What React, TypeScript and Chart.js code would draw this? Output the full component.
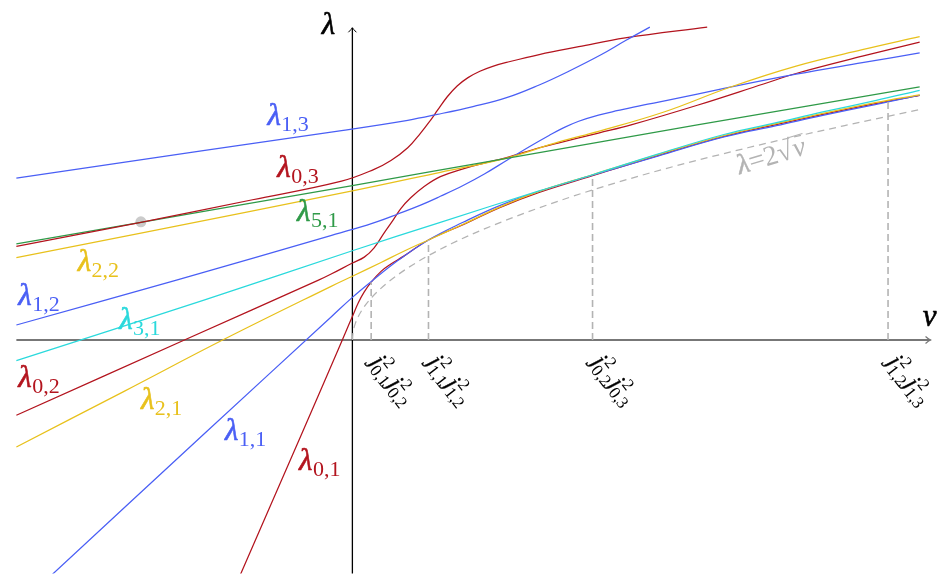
import React, { useEffect, useRef } from 'react';
import { Chart, registerables } from 'chart.js';

Chart.register(...registerables);

// ---------- data (x = nu, y = lambda) ----------
const X_MIN = -35.1;
const X_MAX = 58.8;
const Y_MIN = -23.8;
const Y_MAX = 34.1;

const lam13X = [-34, -15.1, -1.1, 5.6, 8.6, 12.2, 15.6, 18.9, 21.9, 25.2, 27.6, 30.1];
const lam13Y = [16.5, 19.3, 21.35, 22.4, 23.0, 23.8, 24.7, 26.0, 27.4, 29.1, 30.5, 31.9];

const lam03X = [-34, -21.4, -10.1, -1.1, 2.2, 3.9, 5.6, 6.9, 7.9, 8.6, 9.6, 10.6, 11.7, 12.9, 14.2, 15.6, 18.9, 22.9, 27.6, 35.9];
const lam03Y = [9.55, 12.0, 14.3, 16.2, 17.4, 18.3, 19.6, 21.1, 22.4, 23.4, 24.8, 25.9, 26.75, 27.4, 27.9, 28.3, 29.1, 29.9, 30.8, 31.9];

const lam51X = [-34, -21.4, 0, 15.6, 34.9, 57.4];
const lam51Y = [9.8, 12.0, 15.75, 18.52, 21.92, 25.8];

const lam22X = [-34, -21.4, 0, 8.9, 15.6, 20.9, 24.9, 31.6, 38.2, 44.9, 51.6, 57.4];
const lam22Y = [8.4, 10.9, 15.2, 17.1, 18.55, 20.2, 21.27, 23.27, 25.77, 27.93, 29.6, 30.93];

const lam12X = [-34, -17.8, -2.1, 0, 2.6, 4.6, 6.9, 8.9, 11.2, 13.4, 15.6, 17.9, 19.9, 21.4, 22.9, 24.9, 26.9, 29.4, 31.6, 38.2, 44.9, 51.6, 57.4];
const lam12Y = [1.53, 6.1, 10.67, 11.27, 12.1, 12.85, 13.75, 14.65, 15.75, 16.95, 18.3, 19.7, 20.85, 21.65, 22.3, 22.93, 23.4, 23.95, 24.37, 25.77, 27.1, 28.27, 29.27];

const lam31X = [-34, -15.1, 0, 8.9, 18.9, 24.3, 30.9, 37.6, 42.9, 47.6, 52.9, 57.4];
const lam31Y = [-2.1, 4.05, 9.1, 12.0, 15.2, 16.85, 18.95, 20.95, 22.15, 23.25, 24.4, 25.45];

const lam02X = [-34, -16.77, -3.43, -2.1, 0, 1.2, 2.2, 3.2, 4.1, 4.9, 5.9, 7.2, 8.9, 11.2, 13.4, 15.6, 18.9, 20.9, 24.9, 28.2, 34.9, 41.6, 44.9, 51.6, 57.4];
const lam02Y = [-7.67, 0.1, 6.1, 6.75, 7.85, 8.45, 9.4, 10.9, 12.2, 13.4, 14.5, 15.6, 16.65, 17.45, 18.05, 18.6, 19.6, 20.1, 21.1, 21.93, 23.93, 26.1, 27.17, 28.93, 30.37];

const lam21X = [-34, -23.1, -12.93, -2.1, 0, 2.9, 5.2, 7.7, 11.2, 14.9, 18.9, 24.3, 30.9, 37.6, 42.9, 47.6, 52.9, 57.4];
const lam21Y = [-10.9, -5.23, 0.1, 5.5, 6.5, 7.9, 9.05, 10.2, 11.8, 13.55, 15.15, 16.85, 18.9, 20.85, 22.05, 23.1, 24.2, 25.0];

const lam11X = [-30.8, -15.1, -2.1, 0, 1.9, 4.6, 7.7, 11.2, 14.9, 18.9, 24.3, 30.9, 37.6, 42.9, 47.6, 52.9, 57.4];
const lam11Y = [-24.3, -9.66, 2.4, 4.35, 5.95, 8.1, 10.2, 12.0, 13.7, 15.15, 16.8, 18.75, 20.7, 21.85, 22.9, 24.0, 24.95];

const lam01X = [-11.5, -5.1, -1.4, -0.6, 0, 0.6, 1.2, 1.9, 2.9, 3.9, 5.2, 7.7, 11.2, 14.9, 18.9, 24.3, 30.9, 37.6, 42.9, 47.6, 52.9, 57.4];
const lam01Y = [-24.3, -9.5, -0.9, 1.0, 2.4, 3.8, 4.9, 5.9, 7.0, 7.75, 8.55, 10.2, 11.75, 13.5, 15.05, 16.75, 18.8, 20.75, 21.95, 23.0, 24.1, 24.95];

const boundX = [0, 0.05, 0.15, 0.3, 0.6, 1.2, 2.0, 3.5, 6.0, 10, 15, 22, 30, 40, 50, 57.4];
const boundY = [0, 0.69, 1.2, 1.7, 2.4, 3.4, 4.39, 5.8, 7.6, 9.81, 12.0, 14.55, 17.0, 19.6, 21.9, 23.5];

const tickX = [1.9, 7.7, 24.3, 54.2];
const tickTop = [5.9, 10.2, 16.8, 24.4];
const tickIdx = [['0,1', '0,2'], ['1,1', '1,2'], ['0,2', '0,3'], ['1,2', '1,3']];

const markX = [-21.4];
const markY = [12.05];

const AXIS_X_START = -34;
const AXIS_X_END = 58.5;
const AXIS_Y_END = 31.83;

// ---------- styles ----------
const BLUE = '#4a5ff5';
const RED = '#b3141e';
const GREEN = '#2f9a48';
const YELLOW = '#e8c11c';
const CYAN = '#2ad9dc';
const GRAY = '#b3b3b3';
const FONT = '"Liberation Serif", "DejaVu Serif", serif';

const curveLabels = [
  { n: '1,3', c: BLUE, x: -8.6, y: 21.9 },
  { n: '0,3', c: RED, x: -7.6, y: 16.6 },
  { n: '5,1', c: GREEN, x: -5.6, y: 12.1 },
  { n: '2,2', c: YELLOW, x: -27.8, y: 7.03 },
  { n: '1,2', c: BLUE, x: -33.8, y: 3.6 },
  { n: '3,1', c: CYAN, x: -23.6, y: 1.1 },
  { n: '0,2', c: RED, x: -33.8, y: -4.83 },
  { n: '2,1', c: YELLOW, x: -21.4, y: -7.0 },
  { n: '1,1', c: BLUE, x: -12.9, y: -10.17 },
  { n: '0,1', c: RED, x: -5.4, y: -13.3 },
];

const pts = (xs: number[], ys: number[]) => xs.map((x, i) => ({ x, y: ys[i] }));

type Part = { t: string; size: number; italic?: boolean; dy?: number; dx?: number; stack?: boolean; bold?: number };

function drawParts(ctx: CanvasRenderingContext2D, parts: Part[], color: string) {
  let x = 0;
  ctx.fillStyle = color;
  ctx.strokeStyle = color;
  ctx.textAlign = 'left';
  ctx.textBaseline = 'alphabetic';
  for (const p of parts) {
    ctx.font = `${p.italic ? 'italic ' : ''}${p.size}px ${FONT}`;
    const dx = p.dx || 0;
    ctx.fillText(p.t, x + dx, p.dy || 0);
    if (p.bold) {
      ctx.lineWidth = p.bold;
      ctx.strokeText(p.t, x + dx, p.dy || 0);
    }
    if (!p.stack) x += ctx.measureText(p.t).width + dx;
  }
  return x;
}

const overlay = {
  id: 'overlay',
  beforeDatasetsDraw(chart: any) {
    const { ctx, scales } = chart;
    const sx = scales.x, sy = scales.y;
    ctx.save();
    const y0 = sy.getPixelForValue(0);
    const xa = sx.getPixelForValue(AXIS_X_START);
    const xb = sx.getPixelForValue(AXIS_X_END);
    ctx.strokeStyle = '#777777';
    ctx.lineWidth = 2;
    ctx.beginPath();
    ctx.moveTo(xa, y0);
    ctx.lineTo(xb, y0);
    ctx.stroke();
    ctx.lineWidth = 1.2;
    ctx.beginPath();
    ctx.moveTo(xb - 5, y0 - 3.5);
    ctx.quadraticCurveTo(xb - 2, y0 - 0.8, xb, y0);
    ctx.quadraticCurveTo(xb - 2, y0 + 0.8, xb - 5, y0 + 3.5);
    ctx.stroke();
    const x0 = sx.getPixelForValue(0);
    const yt = sy.getPixelForValue(AXIS_Y_END);
    const yb = sy.getPixelForValue(Y_MIN);
    ctx.strokeStyle = '#000000';
    ctx.lineWidth = 1.3;
    ctx.beginPath();
    ctx.moveTo(x0, yb);
    ctx.lineTo(x0, yt);
    ctx.stroke();
    ctx.lineWidth = 1;
    ctx.beginPath();
    ctx.moveTo(x0 - 4, yt + 4.5);
    ctx.quadraticCurveTo(x0 - 1, yt + 1.5, x0, yt);
    ctx.quadraticCurveTo(x0 + 1, yt + 1.5, x0 + 4, yt + 4.5);
    ctx.stroke();
    ctx.restore();
  },
  afterDatasetsDraw(chart: any) {
    const { ctx, scales } = chart;
    const sx = scales.x, sy = scales.y;
    ctx.save();
    for (const l of curveLabels) {
      ctx.save();
      ctx.translate(sx.getPixelForValue(l.x), sy.getPixelForValue(l.y));
      drawParts(ctx, [
        { t: 'λ', size: 31, italic: true, bold: 0.6 },
        { t: l.n, size: 22, dy: 6, dx: 0.5 },
      ], l.c);
      ctx.restore();
    }
    ctx.save();
    ctx.translate(sx.getPixelForValue(-3.1), sy.getPixelForValue(31.2));
    drawParts(ctx, [{ t: 'λ', size: 31, italic: true, bold: 0.6 }], '#000');
    ctx.restore();
    ctx.save();
    ctx.translate(sx.getPixelForValue(57.7), sy.getPixelForValue(1.4));
    drawParts(ctx, [{ t: 'ν', size: 31, italic: true, bold: 0.6 }], '#000');
    ctx.restore();
    const theta = (52 * Math.PI) / 180;
    tickX.forEach((tx, i) => {
      ctx.save();
      ctx.translate(sx.getPixelForValue(tx) - 1.5, sy.getPixelForValue(0) + 22.5);
      ctx.rotate(theta);
      const [a, b] = tickIdx[i];
      drawParts(ctx, [
        { t: 'j', size: 25, italic: true, bold: 0.3 },
        { t: '2', size: 17, dy: -10, dx: 1, stack: true },
        { t: a, size: 17, dy: 5.5, dx: -1 },
        { t: 'j', size: 25, italic: true, dx: 1, bold: 0.3 },
        { t: '2', size: 17, dy: -10, dx: 1, stack: true },
        { t: b, size: 17, dy: 5.5, dx: -1 },
      ], '#000');
      ctx.restore();
    });
    ctx.save();
    ctx.translate(sx.getPixelForValue(39.2), sy.getPixelForValue(16.9));
    ctx.rotate((-16.7 * Math.PI) / 180);
    const endX = drawParts(ctx, [
      { t: 'λ', size: 28, italic: true, bold: 0.5 },
      { t: '=', size: 28 },
      { t: '2', size: 28 },
      { t: '√', size: 28 },
    ], GRAY);
    ctx.font = `italic 28px ${FONT}`;
    ctx.fillText('ν', endX + 1, 0);
    const nuW = ctx.measureText('ν').width;
    ctx.strokeStyle = GRAY;
    ctx.lineWidth = 1.2;
    ctx.beginPath();
    ctx.moveTo(endX - 0.5, -21);
    ctx.lineTo(endX + nuW + 2, -21);
    ctx.stroke();
    ctx.restore();
    ctx.restore();
  },
};

export default function App() {
  const ref = useRef<HTMLCanvasElement | null>(null);
  useEffect(() => {
    if (!ref.current) return;
    const line = (data: any, color: string, extra: any = {}) => ({
      data,
      borderColor: color,
      backgroundColor: color,
      borderWidth: 1.25,
      showLine: true,
      pointRadius: 0,
      tension: 0.4,
      cubicInterpolationMode: 'default',
      fill: false,
      ...extra,
    });
    const datasets: any[] = [
      line(pts(boundX, boundY), GRAY, { borderDash: [7, 5], cubicInterpolationMode: 'monotone' }),
      ...tickX.map((tx, i) =>
        line([{ x: tx, y: 0 }, { x: tx, y: tickTop[i] }], GRAY, { borderDash: [7, 4], borderWidth: 1.6, tension: 0 })
      ),
      line(pts(lam13X, lam13Y), BLUE),
      line(pts(lam03X, lam03Y), RED),
      line(pts(lam51X, lam51Y), GREEN),
      line(pts(lam22X, lam22Y), YELLOW),
      line(pts(lam12X, lam12Y), BLUE),
      line(pts(lam31X, lam31Y), CYAN),
      line(pts(lam02X, lam02Y), RED),
      line(pts(lam21X, lam21Y), YELLOW),
      line(pts(lam11X, lam11Y), BLUE),
      line(pts(lam01X, lam01Y), RED),
      {
        data: pts(markX, markY),
        showLine: false,
        pointRadius: 5.5,
        pointBackgroundColor: 'rgba(190,190,190,0.8)',
        pointBorderWidth: 0,
      },
    ];
    const chart = new Chart(ref.current, {
      type: 'scatter',
      data: { datasets },
      options: {
        animation: false,
        responsive: false,
        devicePixelRatio: 1,
        layout: { padding: 0 },
        events: [],
        plugins: { legend: { display: false }, tooltip: { enabled: false } },
        scales: {
          x: { type: 'linear', min: X_MIN, max: X_MAX, display: false },
          y: { type: 'linear', min: Y_MIN, max: Y_MAX, display: false },
        },
      } as any,
      plugins: [overlay],
    });
    let alive = true;
    const fonts = [`italic 31px ${FONT}`, `22px ${FONT}`];
    if ((document as any).fonts) {
      Promise.all(fonts.map((f) => (document as any).fonts.load(f, 'λν12')))
        .then(() => { if (alive) chart.draw(); })
        .catch(() => {});
    }
    return () => { alive = false; chart.destroy(); };
  }, []);
  return (
    <div style={{ position: 'fixed', left: 0, top: 0, width: 939, height: 579, background: '#fff' }}>
      <canvas ref={ref} width={939} height={579} style={{ display: 'block' }} />
    </div>
  );
}
